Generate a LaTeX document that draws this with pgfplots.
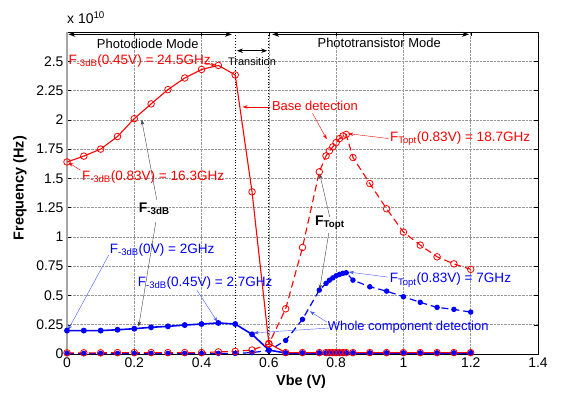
\documentclass[border=0pt]{standalone}
\usepackage{fontspec}
\setmainfont{Liberation Sans}
\usepackage{pgfplots}
\pgfplotsset{compat=1.18}
\usetikzlibrary{arrows.meta}
\definecolor{mred}{RGB}{255,0,0}
\definecolor{mblue}{RGB}{0,0,255}
\definecolor{ablue}{RGB}{70,90,255}
\newcommand{\sub}[1]{\textsubscript{#1}}
\begin{document}
\begin{tikzpicture}
\path[use as bounding box] (-67bp,-40bp) rectangle (496bp,354bp);
\begin{axis}[
  at={(0,0)}, anchor=south west,
  scale only axis, width=471bp, height=322bp,
  xmin=0, xmax=1.4, ymin=0, ymax=2.75,
  xtick={0,0.2,...,1.4},
  ytick={0,0.25,0.5,0.75,1,1.25,1.5,1.75,2,2.25,2.5},
  yticklabels={0,0.25,0.5,0.75,1,1.25,1.5,1.75,2,2.25,2.5},
  xticklabels={0,0.2,0.4,0.6,0.8,1,1.2,1.4},
  tick pos=both, tick align=inside, major tick length=4bp,
  tick style={black, line width=0.4pt},
  grid=major, major grid style={densely dotted, gray!80, line width=0.5pt},
  axis line style={black, line width=0.5pt},
  tick label style={font=\fontsize{14}{16}\selectfont},
  /pgf/number format/assume math mode=true,
  xlabel={\textbf{Vbe (V)}}, ylabel={\textbf{Frequency (Hz)}},
  label style={font=\fontsize{14.5}{16}\selectfont},
  xlabel style={at={(axis description cs:0.497,-0.087)}, anchor=center},
  ylabel style={at={(axis description cs:-0.1,0.515)}, anchor=center},
  clip=false,
]
% left spine (grey in reference)
\draw[gray!70, line width=1.3pt] (axis cs:0,0) -- (axis cs:0,2.75);
% mode separators
\draw[black, dotted, line width=0.9pt] (axis cs:0.5,0) -- (axis cs:0.5,2.75);
\draw[black, dotted, line width=0.9pt] (axis cs:0.6,0) -- (axis cs:0.6,2.75);

% Blue solid: F-3dB whole component
\addplot[mblue, line width=1.6pt, mark=*, mark size=2.1bp, mark options={solid}] coordinates {
(0,0.2)(0.05,0.2)(0.1,0.2)(0.15,0.207)(0.2,0.216)(0.25,0.228)(0.3,0.236)(0.35,0.247)(0.4,0.256)(0.45,0.265)(0.5,0.256)(0.55,0.168)(0.6,0.034)(0.65,0.008)(0.7,0.008)(0.75,0.008)(0.77,0.008)(0.78,0.008)(0.79,0.008)(0.8,0.008)(0.81,0.008)(0.82,0.008)(0.83,0.008)(0.85,0.008)(0.9,0.008)(0.95,0.008)(1.0,0.008)(1.05,0.008)(1.1,0.008)(1.15,0.008)(1.2,0.008)};
% Blue dashed: FTopt whole component
\addplot[mblue, line width=1.2pt, dash pattern=on 7bp off 4bp, mark=*, mark size=2.1bp, mark options={solid}] coordinates {
(0,0.005)(0.05,0.005)(0.1,0.005)(0.15,0.005)(0.2,0.005)(0.25,0.005)(0.3,0.005)(0.35,0.005)(0.4,0.005)(0.45,0.005)(0.5,0.005)(0.55,0.012)(0.6,0.03)(0.65,0.116)(0.7,0.296)(0.75,0.546)(0.77,0.603)(0.78,0.63)(0.79,0.65)(0.8,0.668)(0.81,0.68)(0.82,0.689)(0.83,0.694)(0.85,0.631)(0.9,0.574)(0.95,0.537)(1.0,0.489)(1.05,0.441)(1.1,0.398)(1.15,0.381)(1.2,0.358)};
% Red solid: F-3dB base detection
\addplot[mred, line width=1.1pt, mark=o, mark size=3.3bp, mark options={solid, line width=0.8pt}] coordinates {
(0,1.64)(0.05,1.69)(0.1,1.75)(0.15,1.857)(0.2,2.01)(0.25,2.136)(0.3,2.258)(0.35,2.357)(0.4,2.43)(0.45,2.465)(0.5,2.383)(0.55,1.385)(0.6,0.09)(0.65,0.012)(0.7,0.012)(0.75,0.012)(0.77,0.012)(0.78,0.012)(0.79,0.012)(0.8,0.012)(0.81,0.012)(0.82,0.012)(0.83,0.012)(0.85,0.012)(0.9,0.012)(0.95,0.012)(1.0,0.012)(1.05,0.012)(1.1,0.012)(1.15,0.012)(1.2,0.012)};
% Red dashed: FTopt base detection
\addplot[mred, line width=1.1pt, dash pattern=on 7bp off 4bp, mark=o, mark size=3.3bp, mark options={solid, line width=0.8pt}] coordinates {
(0,0.01)(0.05,0.01)(0.1,0.01)(0.15,0.012)(0.2,0.012)(0.25,0.012)(0.3,0.012)(0.35,0.012)(0.4,0.012)(0.45,0.018)(0.5,0.022)(0.55,0.034)(0.6,0.085)(0.65,0.386)(0.7,0.91)(0.75,1.556)(0.77,1.692)(0.78,1.735)(0.79,1.769)(0.8,1.806)(0.81,1.84)(0.82,1.862)(0.83,1.875)(0.85,1.678)(0.9,1.456)(0.95,1.24)(1.0,1.041)(1.05,0.93)(1.1,0.83)(1.15,0.77)(1.2,0.723)};

% exponent
\node[anchor=base west, inner sep=0, font=\fontsize{14}{16}\selectfont] at ([yshift=8bp]rel axis cs:0,1) {x 10\textsuperscript{10}};

% mode arrows
\draw[{Stealth[length=7bp,width=5bp]}-{Stealth[length=7bp,width=5bp]}, line width=0.8pt] (axis cs:0.004,2.73) -- (axis cs:0.49,2.73);
\node[font=\fontsize{13}{15}\selectfont, inner sep=0] at (axis cs:0.24,2.645) {Photodiode Mode};
\draw[{Stealth[length=6bp,width=4.5bp]}-{Stealth[length=6bp,width=4.5bp]}, line width=0.8pt] (axis cs:0.505,2.59) -- (axis cs:0.595,2.59);
\node[font=\fontsize{11}{13}\selectfont, inner sep=0] at (axis cs:0.55,2.50) {Transition};
\draw[{Stealth[length=7bp,width=5bp]}-{Stealth[length=7bp,width=5bp]}, line width=0.8pt] (axis cs:0.61,2.73) -- (axis cs:1.195,2.73);
\node[font=\fontsize{13}{15}\selectfont, inner sep=0] at (axis cs:0.928,2.655) {Phototransistor Mode};

% red annotations
\node[anchor=west, inner sep=0, text=mred, font=\fontsize{13.6}{15}\selectfont] at (axis cs:0.004,2.50) {F\sub{-3dB}(0.45V) = 24.5GHz};
\draw[mred, line width=0.4pt, -{Stealth[length=5bp,width=3.5bp]}] (axis cs:0.41,2.475) -- (axis cs:0.442,2.468);
\node[anchor=west, inner sep=0, text=mred, font=\fontsize{13.6}{15}\selectfont] at (axis cs:0.044,1.51) {F\sub{-3dB}(0.83V) = 16.3GHz};
\draw[mred, line width=0.4pt, -{Stealth[length=5bp,width=3.5bp]}] (axis cs:0.04,1.57) -- (axis cs:0.004,1.635);
\node[anchor=west, inner sep=0, text=mred, font=\fontsize{13}{15}\selectfont] at (axis cs:0.609,2.116) {Base detection};
\draw[mred, line width=0.4pt, -{Stealth[length=5bp,width=3.5bp]}] (axis cs:0.603,2.11) -- (axis cs:0.522,2.11);
\draw[mred, line width=0.4pt, -{Stealth[length=5bp,width=3.5bp]}] (axis cs:0.73,2.056) -- (axis cs:0.772,1.834);
\node[anchor=west, inner sep=0, text=mred, font=\fontsize{13.6}{15}\selectfont] at (axis cs:0.96,1.84) {F\sub{Topt}(0.83V) = 18.7GHz};
\draw[mred, line width=0.4pt, -{Stealth[length=5bp,width=3.5bp]}] (axis cs:0.956,1.84) -- (axis cs:0.836,1.882);

% black annotations
\node[anchor=west, inner sep=0, font=\fontsize{14}{16}\selectfont\bfseries] at (axis cs:0.213,1.237) {F\sub{-3dB}};
\draw[black!75, line width=0.4pt, -{Stealth[length=5bp,width=3.5bp]}] (axis cs:0.267,1.314) -- (axis cs:0.222,2.0);
\draw[black!75, line width=0.4pt, -{Stealth[length=5bp,width=3.5bp]}] (axis cs:0.264,1.126) -- (axis cs:0.213,0.235);
\node[anchor=west, inner sep=0, font=\fontsize{14}{16}\selectfont\bfseries] at (axis cs:0.737,1.118) {F\sub{Topt}};
\draw[black!75, line width=0.4pt, -{Stealth[length=5bp,width=3.5bp]}] (axis cs:0.781,1.169) -- (axis cs:0.751,1.54);
\draw[black!75, line width=0.4pt, -{Stealth[length=5bp,width=3.5bp]}] (axis cs:0.778,1.032) -- (axis cs:0.751,0.55);

% blue annotations
\node[anchor=west, inner sep=0, text=mblue, font=\fontsize{13.6}{15}\selectfont] at (axis cs:0.127,0.887) {F\sub{-3dB}(0V) = 2GHz};
\draw[ablue, line width=0.4pt, -{Stealth[length=5bp,width=3.5bp]}] (axis cs:0.124,0.845) -- (axis cs:0.003,0.205);
\node[anchor=west, inner sep=0, text=mblue, font=\fontsize{13.6}{15}\selectfont] at (axis cs:0.21,0.606) {F\sub{-3dB}(0.45V) = 2.7GHz};
\draw[ablue, line width=0.4pt, -{Stealth[length=5bp,width=3.5bp]}] (axis cs:0.386,0.546) -- (axis cs:0.447,0.275);
\node[anchor=west, inner sep=0, text=mblue, font=\fontsize{13.6}{15}\selectfont] at (axis cs:0.959,0.631) {F\sub{Topt}(0.83V) = 7GHz};
\draw[ablue, line width=0.4pt, -{Stealth[length=5bp,width=3.5bp]}] (axis cs:0.953,0.657) -- (axis cs:0.838,0.70);
\node[anchor=west, inner sep=0, text=mblue, font=\fontsize{13}{15}\selectfont] at (axis cs:0.775,0.23) {Whole component detection};
\draw[ablue, line width=0.4pt, -{Stealth[length=5bp,width=3.5bp]}] (axis cs:0.772,0.273) -- (axis cs:0.722,0.365);
\draw[ablue, line width=0.4pt, -{Stealth[length=5bp,width=3.5bp]}] (axis cs:0.78,0.222) -- (axis cs:0.555,0.18);
\end{axis}
\end{tikzpicture}
\end{document}
